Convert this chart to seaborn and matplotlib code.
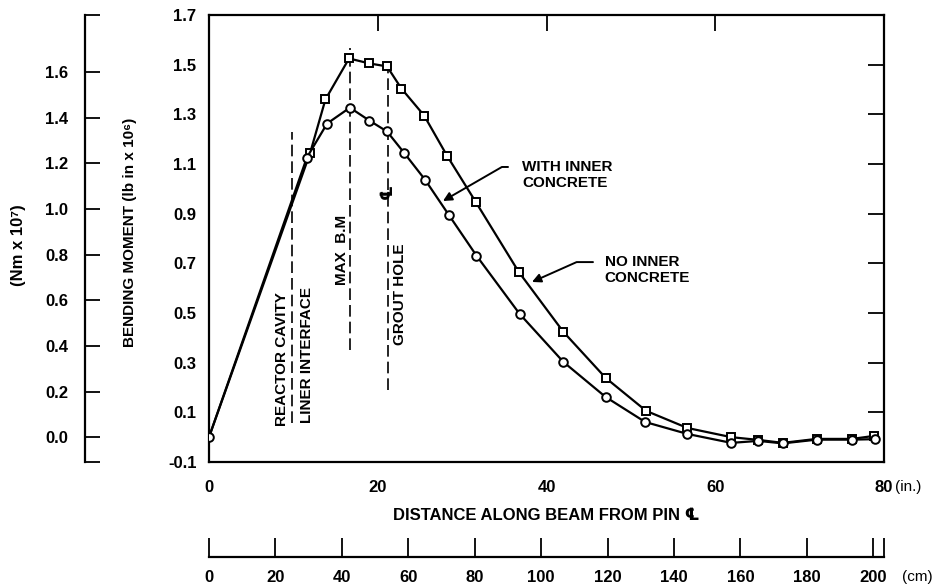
import numpy as np
import pandas as pd
import matplotlib
matplotlib.use("Agg")
import matplotlib.pyplot as plt
import seaborn as sns

# ---------------- data ----------------
dist_with_in = [0, 12.0, 13.8, 16.6, 19.0, 21.1, 22.8, 25.5, 28.2, 31.6, 36.7,
                42.0, 47.0, 51.8, 56.7, 61.9, 65.1, 68.0, 72.0, 76.2, 78.8]
moment_with = [0.0, 1.146, 1.36, 1.525, 1.505, 1.493, 1.404, 1.295, 1.134, 0.948,
               0.666, 0.424, 0.239, 0.106, 0.037, 0.000, -0.011, -0.023, -0.007,
               -0.007, 0.005]

dist_no_in = [0, 11.6, 14.0, 16.7, 19.0, 21.1, 23.1, 25.6, 28.4, 31.7, 36.8,
              42.0, 47.0, 51.7, 56.7, 61.9, 65.1, 68.0, 72.0, 76.2, 78.9]
moment_no = [0.0, 1.126, 1.263, 1.327, 1.275, 1.231, 1.146, 1.037, 0.896, 0.731,
             0.497, 0.303, 0.162, 0.061, 0.013, -0.023, -0.015, -0.025, -0.010,
             -0.010, -0.008]

x_ticks_in = [0, 20, 40, 60, 80]
y_ticks_lbin = [-0.1, 0.1, 0.3, 0.5, 0.7, 0.9, 1.1, 1.3, 1.5, 1.7]
y_ticks_nm = [0.0, 0.2, 0.4, 0.6, 0.8, 1.0, 1.2, 1.4, 1.6]
cm_ticks = [0, 20, 40, 60, 80, 100, 120, 140, 160, 180, 200]
cm_labels = ["0", "20", "40", "60", "80", "100", "120", "140", "160", "180", "200"]
NM_PER_LBIN = 1.0886   # scale ratio of the left-most axis as drawn

# marker lines (reference positions, in inches / lb in x 10^6)
ref_lines = {
    "reactor": (9.85, 0.057, 1.229),
    "maxbm": (16.7, 0.351, 1.567),
    "grout": (21.2, 0.19, 1.49),
}

# ---------------- style ----------------
sns.set_theme(style="white")
plt.rcParams["font.family"] = ["Liberation Sans", "DejaVu Sans"]
plt.rcParams["font.weight"] = "bold"
plt.rcParams["text.color"] = "black"

W, H = 938, 586
fig = plt.figure(figsize=(W / 100, H / 100), dpi=100)
ax = fig.add_axes([209 / W, 1 - 462 / H, 675 / W, 447 / H])

df_with = pd.DataFrame({"x": dist_with_in, "y": moment_with})
df_no = pd.DataFrame({"x": dist_no_in, "y": moment_no})

sns.lineplot(data=df_with, x="x", y="y", ax=ax, color="black", lw=1.6,
             marker="s", markersize=6.2, markerfacecolor="white",
             markeredgecolor="black", markeredgewidth=1.4,
             markevery=list(range(1, len(dist_with_in))),
             sort=False, estimator=None, zorder=3)
sns.lineplot(data=df_no, x="x", y="y", ax=ax, color="black", lw=1.6,
             marker="o", markersize=6.2, markerfacecolor="white",
             markeredgecolor="black", markeredgewidth=1.4,
             sort=False, estimator=None, zorder=4)

ax.set_xlim(0, 80)
ax.set_ylim(-0.1, 1.7)
ax.set_xticks(x_ticks_in)
ax.set_xticklabels([str(v) for v in x_ticks_in])
ax.set_yticks(y_ticks_lbin)
ax.set_yticklabels([f"{v:.1f}" for v in y_ticks_lbin])
ax.set_xlabel("")
ax.set_ylabel("")
ax.tick_params(axis="both", direction="in", length=11.5, width=1.3,
               top=True, right=True, labelsize=12, colors="black")
ax.tick_params(axis="x", pad=13)
ax.tick_params(axis="y", pad=9)
for s in ax.spines.values():
    s.set_color("black")
    s.set_linewidth(1.6)

# dashed reference lines
for key, (xv, y0, y1) in ref_lines.items():
    ax.plot([xv, xv], [y0, y1], color="black", lw=1.2, dashes=(7, 3), zorder=2)

rot = dict(rotation=90, fontsize=11, fontweight="bold", color="black")
ax.text(8.65, 0.045, "REACTOR CAVITY", ha="center", va="bottom", **rot)
ax.text(11.6, 0.057, "LINER INTERFACE", ha="center", va="bottom", **rot)
ax.text(15.76, 0.613, "MAX  B.M", ha="center", va="bottom", **rot)
ax.text(22.6, 0.371, "GROUT HOLE", ha="center", va="bottom", **rot)
ax.text(21.1, 0.987, "\u2104", ha="center", va="center", rotation=90,
        fontsize=12, fontweight="bold", family=["DejaVu Sans"])

# annotations
ax.text(37.1, 1.116, "WITH INNER\nCONCRETE", ha="left", va="top", fontsize=11,
        fontweight="bold")
ax.annotate("", xy=(27.73, 0.951), xytext=(35.44, 1.088),
            arrowprops=dict(arrowstyle="-|>", color="black", lw=1.4,
                            mutation_scale=13, shrinkA=0, shrinkB=0,
                            connectionstyle="angle,angleA=0,angleB=30,rad=0"))
ax.text(46.9, 0.734, "NO INNER\nCONCRETE", ha="left", va="top", fontsize=11,
        fontweight="bold")
ax.annotate("", xy=(38.28, 0.625), xytext=(45.51, 0.705),
            arrowprops=dict(arrowstyle="-|>", color="black", lw=1.4,
                            mutation_scale=13, shrinkA=0, shrinkB=0,
                            connectionstyle="angle,angleA=0,angleB=24,rad=0"))

# secondary y axis (Nm x 10^7)
secy = ax.secondary_yaxis((85 - 209) / 675,
                          functions=(lambda v: v * NM_PER_LBIN,
                                     lambda v: v / NM_PER_LBIN))
secy.set_ticks(y_ticks_nm, labels=[f"{v:.1f}" for v in y_ticks_nm])
secy.set_ticks([1.7 * NM_PER_LBIN - 1e-6, -0.1 * NM_PER_LBIN + 1e-6], minor=True)
secy.tick_params(which="both", direction="in", length=11, width=1.3,
                 labelsize=12, pad=12, colors="black")
secy.spines["left"].set_linewidth(1.6)
secy.spines["left"].set_color("black")

# secondary x axis (cm)
secx = ax.secondary_xaxis((462 - 557) / 447,
                          functions=(lambda v: v * 2.54, lambda v: v / 2.54))
secx.set_ticks(cm_ticks, labels=cm_labels)
secx.set_ticks([80 * 2.54 - 1e-6], minor=True)
secx.tick_params(which="both", direction="in", length=13.5, width=1.3,
                 labelsize=12, pad=9, colors="black")
secx.spines["bottom"].set_linewidth(1.6)
secx.spines["bottom"].set_color("black")

# axis titles
fig.text(130 / W, 1 - 232 / H, "BENDING MOMENT (lb in x 10\u2076)", rotation=90,
         ha="center", va="center", fontsize=11, fontweight="bold")
fig.text(18 / W, 1 - 245 / H, "(Nm x 10\u2077)", rotation=90,
         ha="center", va="center", fontsize=12, fontweight="bold")
fig.text(546 / W, 1 - 515 / H, "DISTANCE ALONG BEAM FROM PIN \u2104",
         ha="center", va="center", fontsize=12, fontweight="bold")
fig.text(895 / W, 1 - 487 / H, "(in.)", ha="left", va="center", fontsize=11,
         fontweight="normal")
fig.text(902 / W, 1 - 577 / H, "(cm)", ha="left", va="center", fontsize=11,
         fontweight="normal")

fig.savefig("out.png", dpi=100, facecolor="white")
